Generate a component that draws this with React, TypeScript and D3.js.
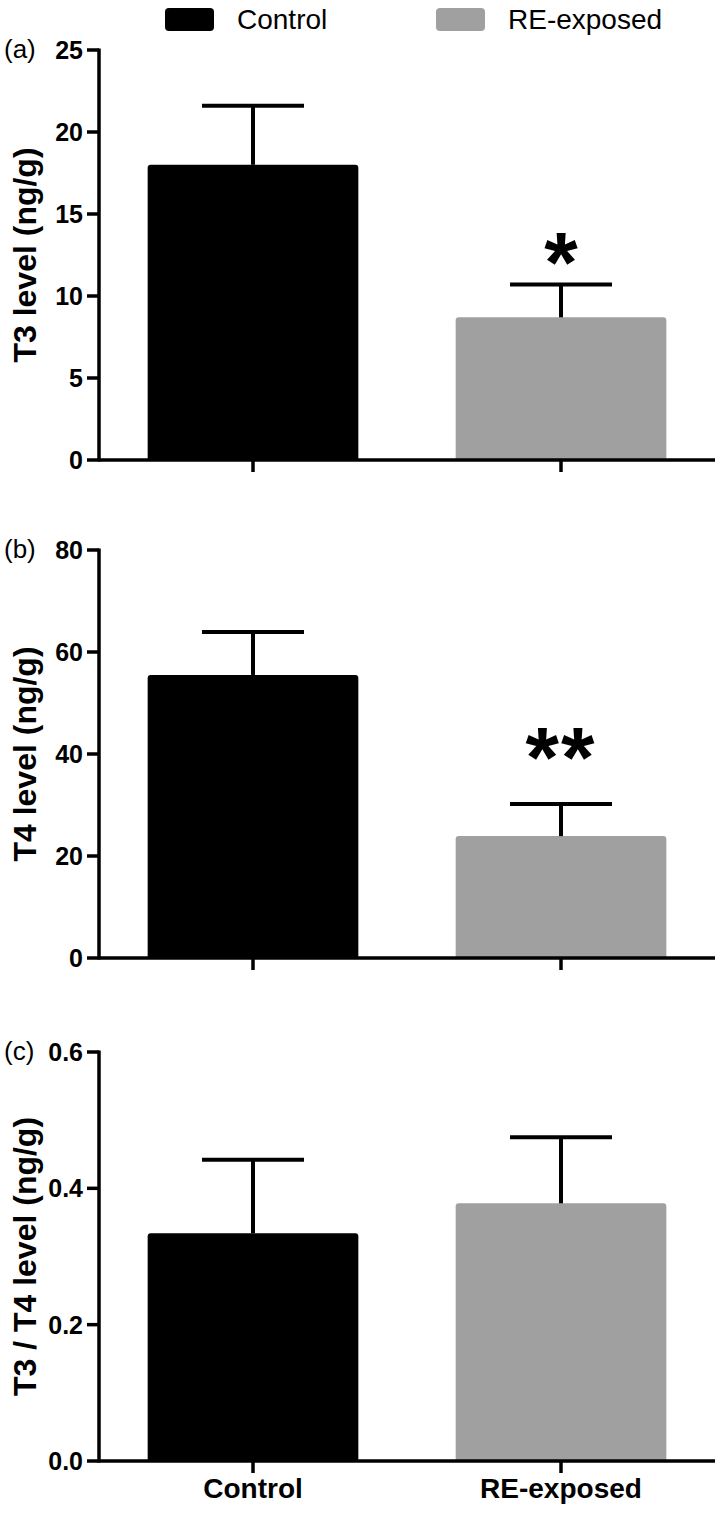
import React from 'react'
import * as d3 from 'd3'

// groups and values (mean and SEM)
const groups = ['Control', 'RE-exposed']
const barColors = ['#000000', '#a0a0a0']

const t3Mean = [18.0, 8.7]
const t3Sem = [3.6, 2.0]
const t3Ticks = [0, 5, 10, 15, 20, 25]

const t4Mean = [55.5, 23.9]
const t4Sem = [8.4, 6.3]
const t4Ticks = [0, 20, 40, 60, 80]

const ratioMean = [0.334, 0.378]
const ratioSem = [0.108, 0.097]
const ratioTicks = [0, 0.2, 0.4, 0.6]

const sigMarks = [['', '*'], ['', '**'], ['', '']]

const font = '"Liberation Sans", Arial, sans-serif'
const axisLeft = 99,
	axisRight = 715

const x = d3
	.scaleBand()
	.domain(groups)
	.range([axisLeft, axisRight])
	.paddingInner(0.316)
	.paddingOuter(0.158)

type PanelProps = {
	label: string
	title: string
	mean: number[]
	sem: number[]
	ticks: number[]
	top: number
	bottom: number
	fmt: (v: number) => string
	marks: string[]
}

const Panel = ({ label, title, mean, sem, ticks, top, bottom, fmt, marks }: PanelProps) => {
	const y = d3
		.scaleLinear()
		.domain([0, d3.max(ticks)!])
		.range([bottom, top])
	const capHalf = 51
	return (
		<g>
			{/* bars */}
			{groups.map((g, i) => {
				const x0 = x(g)!
				const w = x.bandwidth()
				const yt = y(mean[i])
				const r = 3
				const d = `M${x0},${bottom}V${yt + r}Q${x0},${yt} ${x0 + r},${yt}H${x0 + w - r}Q${x0 + w},${yt} ${x0 + w},${yt + r}V${bottom}Z`
				return <path key={g} d={d} fill={barColors[i]} />
			})}
			{/* error bars */}
			{groups.map((g, i) => {
				const cx = x(g)! + x.bandwidth() / 2
				const ye = y(mean[i] + sem[i])
				return (
					<g key={g} stroke="#000" strokeWidth={4}>
						<line x1={cx} x2={cx} y1={y(mean[i])} y2={ye} />
						<line x1={cx - capHalf} x2={cx + capHalf} y1={ye} y2={ye} />
					</g>
				)
			})}
			{/* significance */}
			{groups.map((g, i) =>
				marks[i] ? (
					<text
						key={g}
						x={x(g)! + x.bandwidth() / 2}
						y={y(mean[i] + sem[i])}
						dy={marks[i].length > 1 ? -17 : 7}
						textAnchor="middle"
						fontFamily={font}
						fontWeight="bold"
						fontSize={86}
						letterSpacing={marks[i].length > 1 ? 2 : 0}
					>
						{marks[i]}
					</text>
				) : null
			)}
			{/* y axis */}
			<line x1={axisLeft} x2={axisLeft} y1={top - 1.5} y2={bottom + 1.5} stroke="#000" strokeWidth={3.5} />
			{ticks.map((t) => (
				<g key={t}>
					<line x1={axisLeft - 12} x2={axisLeft} y1={y(t)} y2={y(t)} stroke="#000" strokeWidth={3.5} />
					<text
						x={axisLeft - 16}
						y={y(t)}
						dy="0.36em"
						textAnchor="end"
						fontFamily={font}
						fontWeight="bold"
						fontSize={25}
					>
						{fmt(t)}
					</text>
				</g>
			))}
			{/* x axis */}
			<line x1={axisLeft} x2={axisRight} y1={bottom} y2={bottom} stroke="#000" strokeWidth={3.5} />
			{groups.map((g) => {
				const cx = x(g)! + x.bandwidth() / 2
				return <line key={g} x1={cx} x2={cx} y1={bottom} y2={bottom + 12} stroke="#000" strokeWidth={3.5} />
			})}
			<text
				transform={`translate(36,${(top + bottom) / 2}) rotate(-90)`}
				textAnchor="middle"
				fontFamily={font}
				fontWeight="bold"
				fontSize={32}
			>
				{title}
			</text>
			<text x={4} y={top + 8} fontFamily={font} fontSize={26}>
				{label}
			</text>
		</g>
	)
}

const App = () => {
	const intFmt = d3.format('d')
	const decFmt = d3.format('.1f')
	return (
		<svg width={720} height={1516} style={{ position: 'absolute', left: 0, top: 0, background: '#fff' }}>
			{/* legend */}
			{groups.map((g, i) => (
				<g key={g}>
					<rect x={[165, 436][i]} y={8} width={49} height={23} rx={4} fill={barColors[i]} />
					<text x={[237, 508][i]} y={29} fontFamily={font} fontSize={28}>
						{g}
					</text>
				</g>
			))}
			<Panel label="(a)" title="T3 level (ng/g)" mean={t3Mean} sem={t3Sem} ticks={t3Ticks} top={50} bottom={460} fmt={intFmt} marks={sigMarks[0]} />
			<Panel label="(b)" title="T4 level (ng/g)" mean={t4Mean} sem={t4Sem} ticks={t4Ticks} top={550} bottom={958} fmt={intFmt} marks={sigMarks[1]} />
			<Panel label="(c)" title="T3 / T4 level (ng/g)" mean={ratioMean} sem={ratioSem} ticks={ratioTicks} top={1052} bottom={1461} fmt={decFmt} marks={sigMarks[2]} />
			{groups.map((g) => (
				<text
					key={g}
					x={x(g)! + x.bandwidth() / 2}
					y={1498}
					textAnchor="middle"
					fontFamily={font}
					fontWeight="bold"
					fontSize={28}
				>
					{g}
				</text>
			))}
		</svg>
	)
}

export default App
